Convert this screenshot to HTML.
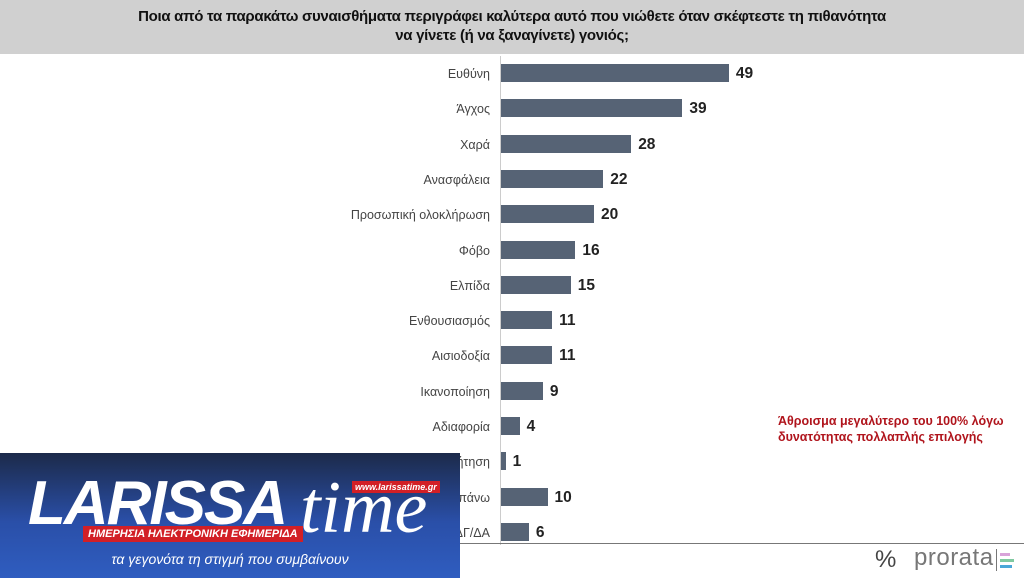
<!DOCTYPE html>
<html><head><meta charset="utf-8"><style>
body{margin:0;width:1024px;height:578px;overflow:hidden;background:#fff;font-family:"Liberation Sans","DejaVu Sans",sans-serif;position:relative}
.hdr{position:absolute;left:0;top:0;width:1024px;height:54px;background:#d0d0d0;text-align:center;font-size:15px;line-height:19px;color:#111;padding-top:7px;box-sizing:border-box;font-weight:bold;letter-spacing:-0.3px}
.axis{position:absolute;left:500px;top:56px;width:1px;height:489px;background:#ccc}
.lbl{position:absolute;right:534px;font-size:12.5px;color:#444;white-space:nowrap}
.bar{position:absolute;left:501px;height:18px;background:#566375}
.val{position:absolute;font-size:15.5px;font-weight:bold;color:#222}
.note{position:absolute;left:778px;top:413px;color:#b0141c;font-size:12.5px;font-weight:bold;line-height:16px}
.hl{position:absolute;left:460px;top:543px;width:564px;height:1px;background:#777}
.banner{position:absolute;left:0;top:453px;width:460px;height:125px;background:linear-gradient(#1c2a4a,#2a4fa8 55%,#2f5dc0)}
</style></head><body>
<div class="hdr">Ποια από τα παρακάτω συναισθήματα περιγράφει καλύτερα αυτό που νιώθετε όταν σκέφτεστε τη πιθανότητα<br>να γίνετε (ή να ξαναγίνετε) γονιός;</div>
<div class="axis"></div>
<div id="c"></div>
<div class="note">Άθροισμα μεγαλύτερο του 100% λόγω<br>δυνατότητας πολλαπλής επιλογής</div>
<div class="hl"></div>
<div style="position:absolute;left:875px;top:546px;font-size:24px;color:#444">%</div>
<div style="position:absolute;left:914px;top:544px;font-size:24px;color:#777;letter-spacing:0.5px">prorata</div>
<div style="position:absolute;left:996px;top:549px;width:1px;height:22px;background:#777"></div>
<div style="position:absolute;left:1000px;top:553px;width:10px;height:3px;background:#d9a3d9"></div>
<div style="position:absolute;left:1000px;top:559px;width:14px;height:3px;background:#7fc9a0"></div>
<div style="position:absolute;left:1000px;top:565px;width:12px;height:3px;background:#4aa7d8"></div>
<div class="banner">
<div style="position:absolute;left:28px;top:20px;font-size:62px;font-weight:bold;font-style:italic;color:#fff;letter-spacing:-2px;line-height:62px">LARISSA</div>
<div style="position:absolute;left:300px;top:18px;font-family:'Liberation Serif',serif;font-size:74px;font-style:italic;color:#fff;line-height:74px">time</div>
<div style="position:absolute;left:352px;top:28px;background:#d21f26;color:#fff;font-size:9px;font-weight:bold;font-style:italic;padding:1px 3px">www.larissatime.gr</div>
<div style="position:absolute;left:83px;top:73px;background:#d21f26;color:#fff;font-size:11px;font-weight:bold;font-style:italic;padding:2px 5px">ΗΜΕΡΗΣΙΑ ΗΛΕΚΤΡΟΝΙΚΗ ΕΦΗΜΕΡΙΔΑ</div>
<div style="position:absolute;left:0;width:460px;top:98px;text-align:center;color:#fff;font-size:14px;font-style:italic">τα γεγονότα τη στιγμή που συμβαίνουν</div>
</div>
<script>
var d=[["Ευθύνη",49],["Άγχος",39],["Χαρά",28],["Ανασφάλεια",22],["Προσωπική ολοκλήρωση",20],["Φόβο",16],["Ελπίδα",15],["Ενθουσιασμός",11],["Αισιοδοξία",11],["Ικανοποίηση",9],["Αδιαφορία",4],["Απογοήτευση/Αμφισβήτηση",1],["Τίποτα από τα παραπάνω",10],["ΔΓ/ΔΑ",6]];
var h="";d.forEach(function(r,i){var c=73+i*35.3;var w=r[1]*4.65;
h+='<div class="lbl" style="top:'+(c-6)+'px">'+r[0]+'</div><div class="bar" style="top:'+(c-9)+'px;width:'+w+'px"></div><div class="val" style="top:'+(c-8)+'px;left:'+(501+w+7)+'px">'+r[1]+'</div>';});
document.getElementById("c").innerHTML=h;
</script>
</body></html>
